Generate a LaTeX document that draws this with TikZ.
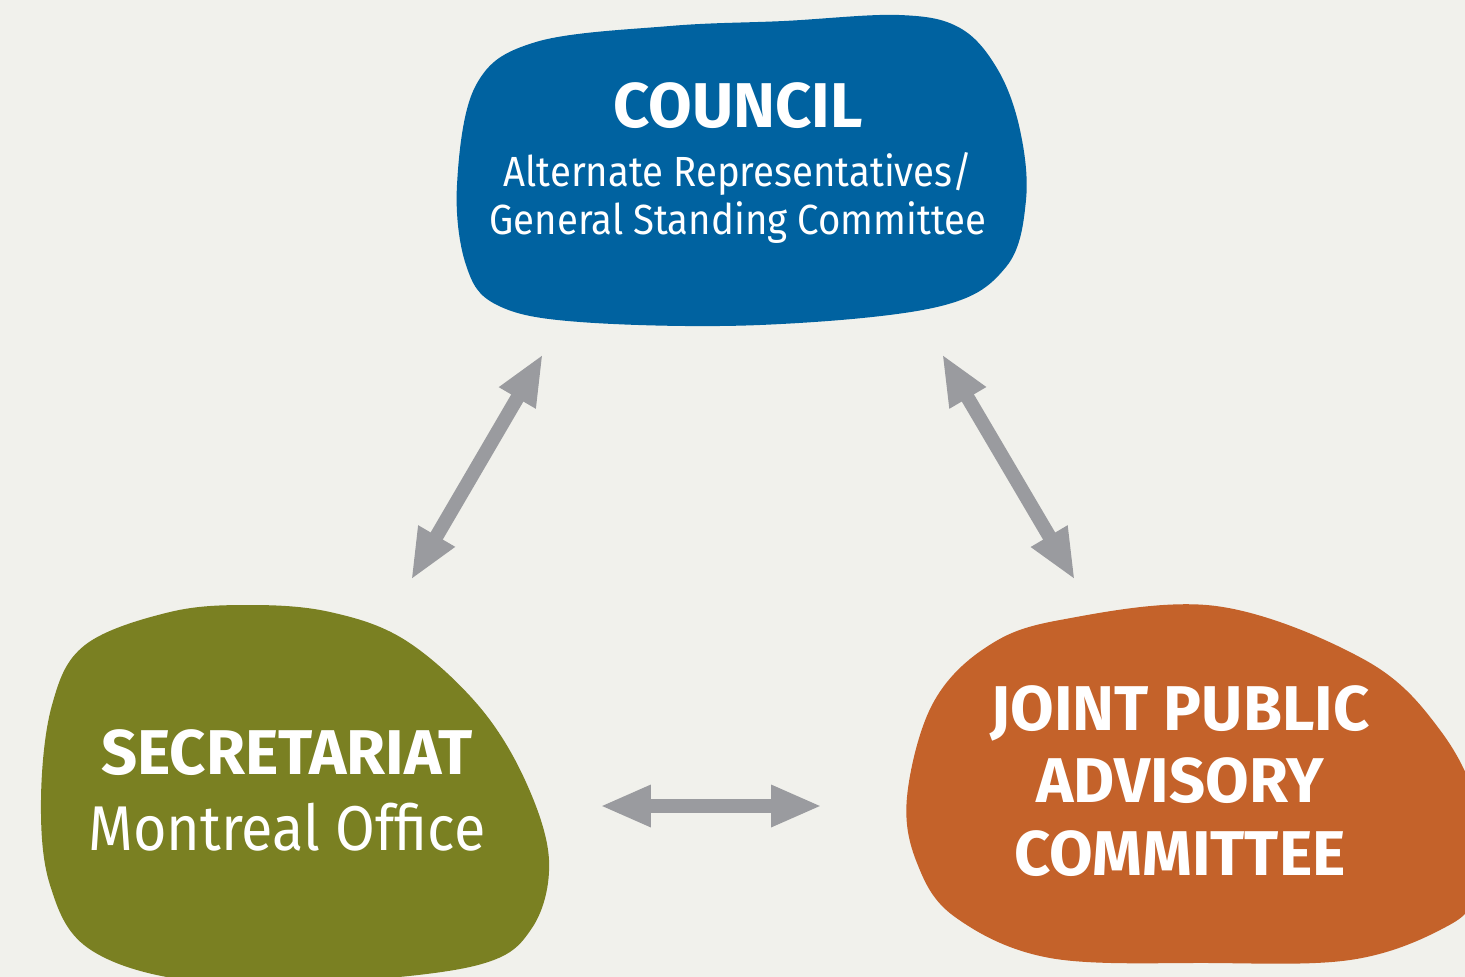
\documentclass[tikz,border=0pt]{standalone}
\usepackage{fontspec}
\setmainfont{Fira Sans}
\newfontfamily\narrowsans[FakeStretch=0.91]{Fira Sans}
\usepackage{xcolor}
\usetikzlibrary{arrows.meta}
\definecolor{bgcol}{HTML}{F1F1EC}
\definecolor{councilblue}{HTML}{0062A0}
\definecolor{secgreen}{HTML}{7A8022}
\definecolor{jpacorange}{HTML}{C4622A}
\definecolor{arrowgray}{HTML}{9A9B9F}
\begin{document}
\begin{tikzpicture}
      [ x=0.02cm, y=-0.02cm,
        blob/.style={smooth cycle, tension=0.6},
        title/.style={text=white, align=center, font=\bfseries\fontsize{36}{41}\selectfont},
        sub/.style={text=white, align=center, font=\narrowsans\fontsize{24}{27}\selectfont},
        link/.style={arrowgray, line width=8pt, {Triangle[length=29pt,width=22pt]}-{Triangle[length=29pt,width=22pt]}}
      ]
      \fill[bgcol] (0,0) rectangle (1465,977);
      \useasboundingbox (0,0) rectangle (1465,977);
      \clip (0,0) rectangle (1465,977);

      % blobs
      \fill[councilblue] plot[blob] coordinates {(457,185) (476,85) (536,42) (670,26) (784,21) (899,15)
        (960,28) (998,70) (1020,130) (1026,200) (1006,267) (937,307) (760,325) (580,322) (497,305) (466,265)};
      \fill[secgreen] plot[blob] coordinates {(41,800) (52,705) (85,645) (170,612) (250,605) (330,612)
        (405,640) (478,705) (525,780) (549,860) (532,928) (478,965) (330,982) (185,980) (88,948) (50,885)};
      \fill[jpacorange] plot[blob] coordinates {(907,797) (932,705) (985,648) (1060,620) (1216,606)
        (1365,660) (1440,730) (1478,810) (1475,895) (1440,930) (1350,960) (1210,963) (1050,958)
        (955,917) (917,863)};

      % texts
      \node[title] (council)     at (738,106) {COUNCIL};
      \node[sub]   (councilsub)  at (738,198) {Alternate Representatives/\\General Standing Committee};
      \node[title] (secretariat) at (287,753) {SECRETARIAT};
      \node[title, font=\narrowsans\fontsize{36}{41}\selectfont] (montreal) at (287,827) {Montreal Office};
      \node[title, font=\bfseries\fontsize{36}{41.5}\selectfont] (jpac) at (1180,781) {JOINT PUBLIC\\ADVISORY\\COMMITTEE};

      % connectors
      \coordinate (cl) at (543,354);  \coordinate (sl) at (411,580);
      \coordinate (cr) at (942,354);  \coordinate (jr) at (1075,580);
      \coordinate (sm) at (600,806);  \coordinate (jm) at (822,806);
      \draw[link] (sl) -- (cl);
      \draw[link] (cr) -- (jr);
      \draw[link] (sm) -- (jm);
    \end{tikzpicture}
\end{document}
